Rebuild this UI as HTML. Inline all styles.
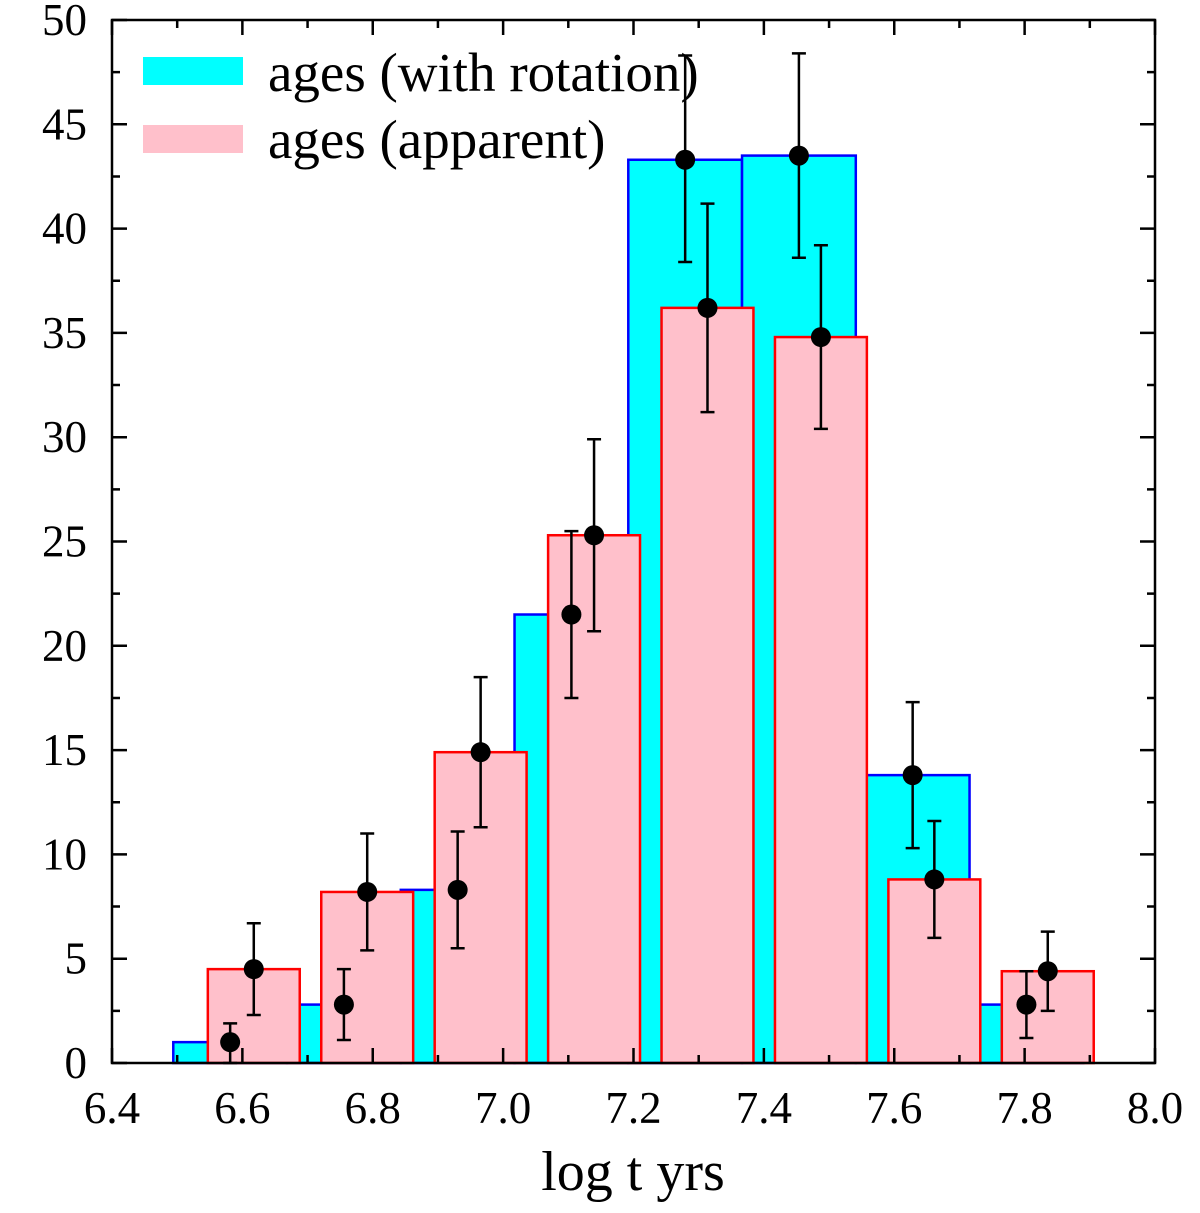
<!DOCTYPE html>
<html><head><meta charset="utf-8"><style>
html,body{margin:0;padding:0;background:#fff;}
svg{display:block;font-family:"Liberation Serif",serif;}
</style></head><body>
<svg id="chart" width="1200" height="1213" viewBox="0 0 1200 1213"></svg>
<script>
const cyanStarts=[6.494,6.6685,6.843,7.0175,7.192,7.3665,7.541,7.7155];
const cyanValues=[1,2.8,8.3,21.5,43.3,43.5,13.8,2.8];
const cyanLow=[0,1.1,5.5,17.5,38.4,38.6,10.3,1.2];
const cyanHigh=[1.9,4.5,11.1,25.5,48.3,48.4,17.3,4.4];
const pinkStarts=[6.547,6.721,6.895,7.069,7.243,7.417,7.591,7.765];
const pinkValues=[4.5,8.2,14.9,25.3,36.2,34.8,8.8,4.4];
const pinkLow=[2.3,5.4,11.3,20.7,31.2,30.4,6.0,2.5];
const pinkHigh=[6.7,11.0,18.5,29.9,41.2,39.2,11.6,6.3];
const cyanWidth=0.1745, pinkWidth=0.141;
const xTicks=[6.4,6.6,6.8,7.0,7.2,7.4,7.6,7.8,8.0];
const yTicks=[0,5,10,15,20,25,30,35,40,45,50];
const L=112,R=1155,T=20,B=1063;
const X=v=>L+(v-6.4)/1.6*(R-L);
const Y=v=>B-v/50*(B-T);
const svg=document.getElementById('chart');
const NS='http://www.w3.org/2000/svg';
function mk(tag,attrs,parent){const e=document.createElementNS(NS,tag);for(const k in attrs)e.setAttribute(k,attrs[k]);(parent||svg).appendChild(e);return e;}
cyanStarts.forEach((s,i)=>{
  const r=mk('rect',{x:X(s),y:Y(cyanValues[i]),width:X(s+cyanWidth)-X(s),height:B-Y(cyanValues[i]),fill:'#00ffff',stroke:'#0000ff','stroke-width':2.5});
  
  
});
pinkStarts.forEach((s,i)=>{
  const r=mk('rect',{x:X(s),y:Y(pinkValues[i]),width:X(s+pinkWidth)-X(s),height:B-Y(pinkValues[i]),fill:'#ffc0cb',stroke:'#ff0000','stroke-width':2.5});
  
  
});
const fr=mk('rect',{x:L,y:T,width:R-L,height:B-T,fill:'none',stroke:'#000','stroke-width':2.5});


let tp='';
for(let k=0;k<=16;k++){const x=X(6.4+k*0.1);const l=(k%2===0)?15:8;tp+=`M${x},${B}v${-l}M${x},${T}v${l}`;}
for(let v=0;v<=50;v+=2.5){const y=Y(v);const l=(v%5===0)?15:8;tp+=`M${L},${y}h${l}M${R},${y}h${-l}`;}
const tk=mk('path',{d:tp,stroke:'#000','stroke-width':2.5,fill:'none'});


xTicks.forEach(v=>{const t=mk('text',{x:X(v),y:1123,'font-size':45,'text-anchor':'middle'});t.textContent=v.toFixed(1);

});
yTicks.forEach(v=>{const t=mk('text',{x:87,y:Y(v)+15,'font-size':45,'text-anchor':'end'});t.textContent=v;

});
const xl=mk('text',{x:633,y:1190,'font-size':56,'text-anchor':'middle'});xl.textContent='log t yrs';


const lg=mk('g',{});


mk('rect',{x:143,y:57,width:100,height:28,fill:'#00ffff'},lg);
mk('rect',{x:143,y:125,width:100,height:28,fill:'#ffc0cb'},lg);
const t1=mk('text',{x:268,y:91,'font-size':55},lg);t1.textContent='ages (with rotation)';


const t2=mk('text',{x:268,y:158,'font-size':55},lg);t2.textContent='ages (apparent)';


function pt(cx,v,lo,hi,name){
  const x=X(cx);
  const p=mk('path',{d:`M${x},${Y(lo)}V${Y(hi)}M${x-7},${Y(hi)}h14M${x-7},${Y(lo)}h14`,stroke:'#000','stroke-width':2.5,fill:'none'});
  
  
  const c=mk('circle',{cx:x,cy:Y(v),r:10,fill:'#000'});
  
  
}
cyanStarts.forEach((s,i)=>pt(s+cyanWidth/2,cyanValues[i],cyanLow[i],cyanHigh[i],'cyan-'+i));
pinkStarts.forEach((s,i)=>pt(s+pinkWidth/2,pinkValues[i],pinkLow[i],pinkHigh[i],'pink-'+i));
</script>
</body></html>
